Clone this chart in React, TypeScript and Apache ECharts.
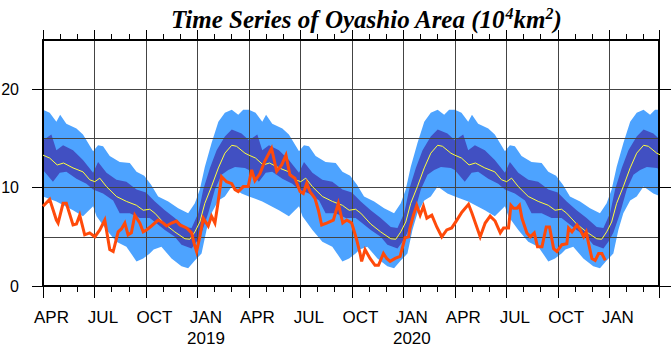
import React, { useEffect, useRef } from 'react';
import * as echarts from 'echarts';

// x values are months since 1 April 2018
const xTickLabels = ['APR', 'JUL', 'OCT', 'JAN', 'APR', 'JUL', 'OCT', 'JAN', 'APR', 'JUL', 'OCT', 'JAN'];
const yearLabels = ['', '', '', '2019', '', '', '', '2020', '', '', '', ''];
const yTickValues = [0, 10, 20];

// Climatology (repeats every year, Apr -> Mar): [month offset, value]
const climMean: [number, number][] = [
  [0.0, 13.3], [0.39, 13.0], [0.83, 12.3], [1.2, 12.5], [1.75, 12.0], [2.33, 11.6], [2.72, 10.8],
  [3.02, 10.6], [3.31, 10.96], [3.7, 10.1], [4.28, 9.1], [4.86, 8.6], [5.45, 8.2], [5.84, 7.7],
  [6.22, 7.8], [6.52, 7.4], [7.1, 6.3], [7.68, 5.5], [8.27, 4.8], [8.56, 4.75], [8.85, 5.5],
  [9.14, 6.5], [9.43, 8.4], [9.82, 10.1], [10.22, 12.0], [10.6, 13.5], [11.0, 14.3], [11.28, 14.2],
  [11.77, 13.5],
];
const climDarkHi: [number, number][] = [
  [0.0, 14.8], [0.49, 15.4], [0.78, 13.8], [1.17, 14.3], [1.75, 13.8], [2.33, 12.8], [2.92, 11.5],
  [3.21, 12.6], [3.7, 11.5], [4.28, 10.8], [4.86, 10.6], [5.45, 9.8], [6.0, 9.5], [6.52, 8.6],
  [7.1, 7.7], [7.68, 6.9], [8.27, 6.0], [8.66, 5.9], [9.05, 7.4], [9.34, 9.8], [9.73, 12.0],
  [10.12, 13.8], [10.6, 15.2], [11.0, 15.9], [11.57, 15.5],
];
const climDarkLo: [number, number][] = [
  [0.0, 11.8], [0.58, 10.6], [0.98, 11.5], [1.36, 11.6], [1.95, 10.9], [2.53, 10.4], [2.92, 9.8],
  [3.5, 9.4], [4.09, 8.7], [4.47, 7.4], [5.06, 7.4], [5.64, 6.9], [6.22, 6.9], [6.52, 6.5],
  [7.1, 5.7], [7.68, 5.0], [8.07, 4.2], [8.66, 3.8], [8.95, 4.5], [9.24, 5.4], [9.63, 7.4],
  [10.02, 9.8], [10.41, 11.3], [10.8, 11.8], [11.19, 12.1], [11.77, 12.0],
];
const climLightHi: [number, number][] = [
  [0.0, 17.9], [0.39, 17.6], [0.78, 16.7], [1.0, 17.4], [1.36, 16.5], [1.95, 16.0], [2.33, 15.4],
  [2.92, 13.7], [3.21, 14.3], [3.5, 14.2], [3.89, 13.2], [4.47, 12.6], [5.06, 12.5], [5.45, 11.6],
  [5.9, 11.2], [6.3, 10.3], [6.71, 9.1], [7.3, 8.6], [7.88, 7.9], [8.46, 7.4], [8.85, 8.4],
  [9.14, 9.8], [9.43, 12.1], [9.82, 14.5], [10.22, 16.7], [10.6, 17.6], [11.0, 17.9], [11.38, 17.4],
  [11.67, 17.9],
];
const climLightLo: [number, number][] = [
  [0.0, 9.1], [0.78, 8.6], [1.75, 7.7], [2.33, 7.1], [2.92, 8.1], [3.12, 7.1], [3.7, 5.7],
  [4.28, 4.5], [4.86, 4.0], [5.45, 2.5], [5.84, 2.8], [6.22, 3.3], [6.45, 3.7], [6.9, 4.0],
  [7.49, 2.8], [8.07, 2.0], [8.46, 1.8], [8.85, 2.6], [9.24, 3.3], [9.53, 5.7], [9.82, 7.4],
  [10.22, 8.7], [10.6, 9.1], [11.0, 10.1], [11.57, 9.4],
];

// Observed Oyashio area: [months since Apr 2018, value]
const observed: [number, number][] = [
  [0.0, 8.1], [0.39, 8.8], [0.78, 6.7], [0.88, 6.4], [1.17, 8.4], [1.36, 8.4], [1.75, 6.2], [1.95, 6.3],
  [2.14, 7.2], [2.43, 5.2], [2.72, 5.4], [3.02, 5.0], [3.31, 5.7], [3.6, 6.7], [3.89, 3.7], [4.09, 3.5],
  [4.38, 5.5], [4.57, 5.8], [4.77, 6.4], [4.96, 5.2], [5.15, 5.4], [5.35, 7.2], [5.64, 6.4], [5.84, 5.5],
  [6.03, 5.7], [6.32, 6.1], [6.71, 6.7], [7.0, 6.4], [7.2, 6.1], [7.49, 6.4], [7.78, 6.6], [7.98, 6.2],
  [8.37, 5.9], [8.66, 5.4], [8.81, 4.3], [8.95, 3.5], [9.14, 5.0], [9.34, 6.9], [9.63, 6.1], [9.82, 7.1],
  [10.02, 6.4], [10.17, 8.1], [10.41, 11.1], [10.7, 10.6], [11.0, 10.4], [11.19, 9.8], [11.38, 9.6],
  [11.67, 10.1], [11.96, 10.1], [12.16, 11.8], [12.35, 10.7], [12.64, 11.4], [12.93, 12.7], [13.32, 14.0],
  [13.62, 11.65], [13.91, 12.3], [14.16, 13.3], [14.39, 11.3], [14.68, 10.96], [14.98, 9.6], [15.17, 9.4],
  [15.37, 10.45], [15.56, 9.6], [15.85, 8.9], [16.05, 7.7], [16.24, 6.2], [16.53, 6.4], [16.92, 6.7],
  [17.21, 8.4], [17.47, 6.4], [17.7, 6.7], [17.99, 6.4], [18.28, 4.7], [18.48, 3.3], [18.57, 2.5],
  [18.77, 3.7], [19.06, 2.8], [19.35, 2.1], [19.55, 2.1], [19.84, 3.3], [20.03, 2.8], [20.23, 2.5],
  [20.52, 2.8], [20.81, 3.0], [21.1, 4.9], [21.3, 5.0], [21.39, 5.9], [21.59, 7.2], [21.78, 8.2],
  [21.98, 7.2], [22.17, 8.1], [22.37, 6.9], [22.66, 7.2], [22.95, 6.0], [23.24, 5.0], [23.53, 5.7],
  [23.82, 5.9], [24.12, 6.7], [24.41, 7.5], [24.8, 8.3], [25.0, 7.4], [25.28, 6.0], [25.48, 5.0],
  [25.77, 6.4], [26.06, 7.1], [26.35, 6.6], [26.65, 5.4], [26.84, 5.9], [27.13, 5.9], [27.27, 8.2],
  [27.42, 7.9], [27.62, 7.9], [27.77, 8.2], [27.91, 6.9], [28.2, 5.4], [28.4, 5.0], [28.63, 5.4],
  [28.82, 4.0], [29.08, 4.0], [29.33, 6.0], [29.52, 6.0], [29.76, 3.8], [29.95, 3.5], [30.24, 4.2],
  [30.53, 4.3], [30.63, 5.9], [30.83, 5.5], [31.12, 6.2], [31.31, 5.7], [31.51, 5.0], [31.66, 5.5],
  [31.8, 4.3], [31.99, 2.8], [32.18, 2.6], [32.38, 3.3], [32.57, 3.3], [32.77, 2.6],
];

const X_MAX = 35.9;
const NUM_YEARS = 3;

// climatology is the same every year: place it in each of the years shown
function acrossYears(clim: [number, number][]): [number, number][] {
  const out: [number, number][] = [];
  for (let k = 0; k < NUM_YEARS; k++) {
    for (const [x, y] of clim) out.push([x + 12 * k, y]);
  }
  out.push([12 * NUM_YEARS, clim[0][1]]);
  return out;
}

const LIGHT = '#4DA3FF';
const DARK = '#4150C2';
const FONT = 'Liberation Sans, Arial, Helvetica, sans-serif';
const SERIF = 'Liberation Serif, Times New Roman, serif';

function xLabel(v: number): string {
  const i = Math.round(v / 3);
  if (Math.abs(v - i * 3) > 1e-6 || i < 0 || i >= xTickLabels.length) return '';
  return yearLabels[i] ? `{m|${xTickLabels[i]}}\n{y|${yearLabels[i]}}` : `{m|${xTickLabels[i]}}`;
}

const bandSeries = (name: string, data: [number, number][], color: string) => ({
  name,
  type: 'line',
  data,
  xAxisIndex: 0,
  yAxisIndex: 0,
  symbol: 'none',
  showSymbol: false,
  lineStyle: { width: 0, opacity: 0 },
  areaStyle: { color, opacity: 1 },
  z: 2,
  silent: true,
});

export default function App() {
  const ref = useRef<HTMLDivElement>(null);
  useEffect(() => {
    if (!ref.current) return;
    const chart = echarts.init(ref.current, null, { renderer: 'svg' });
    const quarterValues = xTickLabels.map((_, i) => i * 3);
    const option: any = {
      animation: false,
      backgroundColor: '#fff',
      title: {
        text: '{a|Time Series of Oyashio Area (10}{s|4}{a|km}{s|2}{a|)}',
        left: 166,
        top: 0,
        textStyle: {
          rich: {
            a: { fontFamily: SERIF, fontStyle: 'italic', fontWeight: 'bold', fontSize: 25, color: '#000', lineHeight: 29 },
            s: { fontFamily: SERIF, fontStyle: 'italic', fontWeight: 'bold', fontSize: 16, color: '#000', verticalAlign: 'top', lineHeight: 18 },
          },
        },
      },
      grid: { left: 43, right: 13, top: 40, bottom: 62, outerBoundsMode: 'none', containLabel: false },
      xAxis: [
        {
          type: 'value', position: 'bottom', min: 0, max: X_MAX, interval: 3, z: 5,
          axisLine: { show: true, onZero: false, lineStyle: { color: '#000', width: 2 } },
          axisTick: { show: true, inside: false, length: 12, lineStyle: { color: '#000', width: 1 } },
          minorTick: { show: true, splitNumber: 3, length: 6, lineStyle: { color: '#000', width: 1 } },
          splitLine: { show: true, lineStyle: { color: '#444', width: 1 } },
          axisLabel: {
            show: true, customValues: quarterValues, formatter: xLabel, margin: 20,
            padding: [0, 0, 0, 17], align: 'center', showMinLabel: true, showMaxLabel: true,
            rich: {
              m: { fontFamily: FONT, fontSize: 17, color: '#000', lineHeight: 22 },
              y: { fontFamily: FONT, fontSize: 17, color: '#000', lineHeight: 21 },
            },
          },
        },
        {
          type: 'value', position: 'top', min: 0, max: X_MAX, interval: 3, z: 5,
          axisLine: { show: true, onZero: false, lineStyle: { color: '#000', width: 2 } },
          axisTick: { show: true, inside: false, length: 10, lineStyle: { color: '#000', width: 1 } },
          minorTick: { show: true, splitNumber: 3, length: 6, lineStyle: { color: '#000', width: 1 } },
          splitLine: { show: false },
          axisLabel: { show: false },
        },
      ],
      yAxis: [
        {
          type: 'value', position: 'left', min: 0, max: 25, interval: 5, z: 5,
          axisLine: { show: true, onZero: false, lineStyle: { color: '#000', width: 2 } },
          axisTick: { show: false },
          axisLabel: { show: false },
          splitLine: { show: true, lineStyle: { color: '#444', width: 1 } },
        },
        {
          type: 'value', position: 'left', min: 0, max: 25, interval: 10, z: 5,
          axisLine: { show: false },
          axisTick: { show: true, inside: false, length: 11, customValues: yTickValues, lineStyle: { color: '#000', width: 1 } },
          axisLabel: {
            show: true, customValues: yTickValues, fontFamily: FONT, fontSize: 16, color: '#000', margin: 24,
            formatter: (v: number) => (yTickValues.includes(v) ? String(v) : ''),
          },
          splitLine: { show: false },
        },
        {
          type: 'value', position: 'right', min: 0, max: 25, interval: 10, z: 5,
          axisLine: { show: true, onZero: false, lineStyle: { color: '#000', width: 2 } },
          axisTick: { show: true, inside: false, length: 12, customValues: yTickValues, lineStyle: { color: '#000', width: 1 } },
          axisLabel: { show: false },
          splitLine: { show: false },
        },
      ],
      series: [
        bandSeries('light upper', acrossYears(climLightHi), LIGHT),
        bandSeries('dark upper', acrossYears(climDarkHi), DARK),
        bandSeries('dark lower', acrossYears(climDarkLo), LIGHT),
        bandSeries('light lower', acrossYears(climLightLo), '#ffffff'),
        {
          name: 'climatology', type: 'line', data: acrossYears(climMean), xAxisIndex: 0, yAxisIndex: 0,
          symbol: 'none', showSymbol: false, z: 6, silent: true,
          lineStyle: { color: '#FFFF3C', width: 1 },
        },
        {
          name: 'observed', type: 'line', data: observed, xAxisIndex: 0, yAxisIndex: 0,
          symbol: 'none', showSymbol: false, z: 7, silent: true,
          lineStyle: { color: '#FF4A0A', width: 3, join: 'miter' },
        },
      ],
    };
    chart.setOption(option);
    return () => chart.dispose();
  }, []);
  return (
    <div
      ref={ref}
      style={{ position: 'fixed', left: 0, top: 0, width: 672, height: 348, background: '#fff' }}
    />
  );
}
